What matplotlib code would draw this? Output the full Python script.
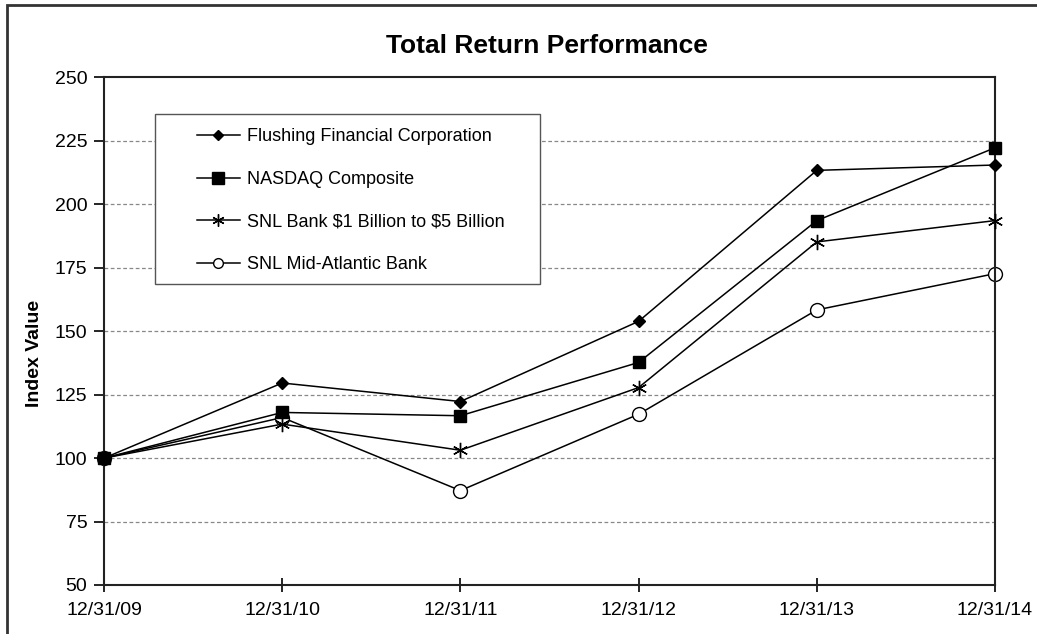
import matplotlib
matplotlib.use('Agg')
import matplotlib.pyplot as plt
from matplotlib.patches import Rectangle

plt.rcParams['font.family'] = ['Liberation Sans', 'DejaVu Sans']

dates = ['12/31/09', '12/31/10', '12/31/11', '12/31/12', '12/31/13', '12/31/14']
flushing = [100, 129.6, 122.3, 153.9, 213.4, 215.5]
nasdaq = [100, 118.0, 116.7, 137.7, 193.6, 222.3]
snl_1to5 = [100, 113.4, 103.1, 127.8, 185.2, 193.6]
snl_midatl = [100, 116.0, 87.2, 117.3, 158.4, 172.7]

series = [
    ('Flushing Financial Corporation', flushing, 4, dict(marker='D', markersize=6, markerfacecolor='black')),
    ('NASDAQ Composite', nasdaq, 5, dict(marker='s', markersize=9, markerfacecolor='black')),
    ('SNL Bank \\$1 Billion to \\$5 Billion', snl_1to5, 3, dict(marker=(6, 2, 0), markersize=11, markeredgewidth=1)),
    ('SNL Mid-Atlantic Bank', snl_midatl, 2, dict(marker='o', markersize=10, markerfacecolor='white', markeredgewidth=1)),
]

fig = plt.figure(figsize=(10.37, 6.34), dpi=100)
ax = fig.add_axes([0.1003, 0.0773, 0.8592, 0.8005])

x = list(range(len(dates)))
for label, vals, z, style in series:
    ax.plot(x, vals, color='black', linewidth=1.1, markeredgecolor='black', label=label, zorder=z, clip_on=False, **style)

ax.set_xlim(0, len(dates) - 1)
ax.set_ylim(50, 250)
ax.set_yticks(range(50, 251, 25))
ax.set_xticks(x)
ax.set_xticklabels(dates)
ax.tick_params(axis='y', direction='out', length=7, width=1.2, labelsize=14, pad=5)
ax.tick_params(axis='x', direction='inout', length=10, width=1.2, labelsize=14, pad=7)
for t in range(75, 250, 25):
    ax.axhline(t, color='#888888', linestyle=(0, (3, 2)), linewidth=0.9, zorder=1)
for s in ax.spines.values():
    s.set_linewidth(1.5)
    s.set_color('#222222')

ax.set_ylabel('Index Value', fontsize=14, fontweight='bold')
ax.yaxis.set_label_coords(-0.068, 0.457)
fig.text(0.527, 0.927, 'Total Return Performance', fontsize=19, fontweight='bold', ha='center', va='center')

# legend frame drawn separately (wide left indent in the original)
ax.add_patch(Rectangle((0.0572, 0.594), 0.432, 0.335, transform=ax.transAxes, fill=True,
                       facecolor='white', edgecolor='#555555', linewidth=1.0, zorder=6))
leg = ax.legend(loc='upper left', bbox_to_anchor=(0.104, 0.900), fontsize=13, frameon=False,
                labelspacing=1.42, handlelength=2.4, borderpad=0, handletextpad=0.4, borderaxespad=0)
leg.set_zorder(7)
for h in leg.legend_handles:
    if h.get_marker() == 's':
        h.set_markersize(8)
    elif h.get_marker() == 'o':
        h.set_markersize(7)
    else:
        h.set_markersize(h.get_markersize() * 0.8)

fig.patches.append(Rectangle((7 / 1037, -0.1), 1.2, 1 - 5 / 634 + 0.1, transform=fig.transFigure,
                             fill=False, edgecolor='#333333', linewidth=2))

fig.savefig('out.png', dpi=100)
